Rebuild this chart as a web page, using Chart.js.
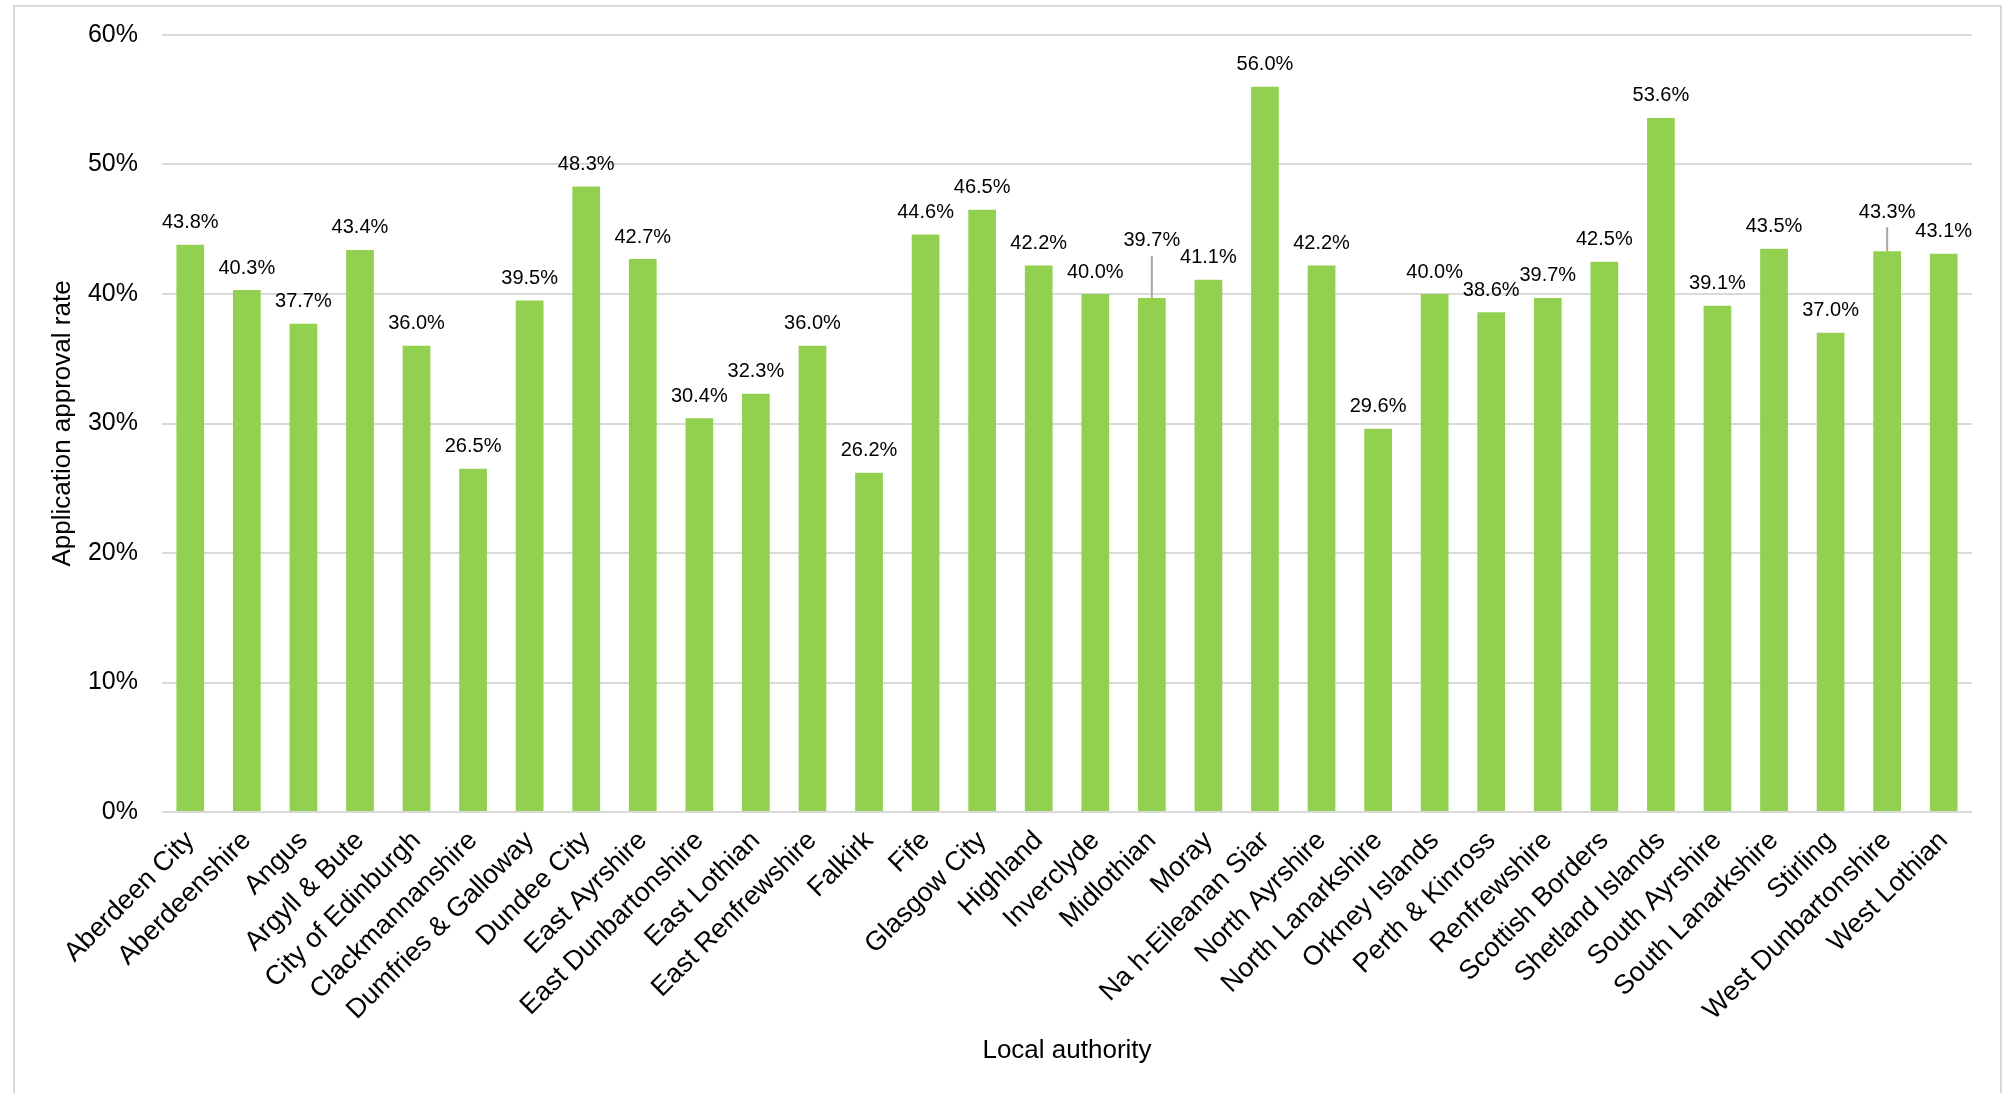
<!DOCTYPE html>
<html>
<head>
    <title>Application approval rate by local authority</title>
    <style>
        html, body { margin: 0; padding: 0; background: #fff; }
        #chartApproval { display: block; }
    </style>
</head>
<body>
    <canvas id="chartApproval" width="2009" height="1093"></canvas>

    <script src="https://cdn.jsdelivr.net/npm/chart.js"></script>
    <script>
        const authorities = [
            'Aberdeen City', 'Aberdeenshire', 'Angus', 'Argyll & Bute', 'City of Edinburgh',
            'Clackmannanshire', 'Dumfries & Galloway', 'Dundee City', 'East Ayrshire',
            'East Dunbartonshire', 'East Lothian', 'East Renfrewshire', 'Falkirk', 'Fife',
            'Glasgow City', 'Highland', 'Inverclyde', 'Midlothian', 'Moray', 'Na h-Eileanan Siar',
            'North Ayrshire', 'North Lanarkshire', 'Orkney Islands', 'Perth & Kinross',
            'Renfrewshire', 'Scottish Borders', 'Shetland Islands', 'South Ayrshire',
            'South Lanarkshire', 'Stirling', 'West Dunbartonshire', 'West Lothian'
        ];

        // Approval rate in percent
        const approvalRates = [
            43.8, 40.3, 37.7, 43.4, 36.0,
            26.5, 39.5, 48.3, 42.7,
            30.4, 32.3, 36.0, 26.2, 44.6,
            46.5, 42.2, 40.0, 39.7, 41.1, 56.0,
            42.2, 29.6, 40.0, 38.6,
            39.7, 42.5, 53.6, 39.1,
            43.5, 37.0, 43.3, 43.1
        ];

        const yMin = 0;
        const yMax = 60;
        const yStep = 10;

        const FONT = '"Liberation Sans", Arial, sans-serif';
        Chart.defaults.font.family = FONT;
        Chart.defaults.color = '#000';

        // Grey frame round the whole chart
        const frame = {
            id: 'frame',
            beforeDraw(chart) {
                const ctx = chart.ctx;
                ctx.save();
                ctx.fillStyle = '#fff';
                ctx.fillRect(0, 0, chart.width, chart.height);
                ctx.strokeStyle = '#d9d9d9';
                ctx.lineWidth = 2;
                ctx.strokeRect(14, 6, 1987, 1200);
                ctx.restore();
            }
        };

        // Value above each bar; a few labels are raised and get a leader line
        const valueLabels = {
            id: 'valueLabels',
            afterDatasetsDraw(chart, args, opts) {
                const ctx = chart.ctx;
                const meta = chart.getDatasetMeta(0);
                ctx.save();
                ctx.font = '20px ' + FONT;
                ctx.fillStyle = '#000';
                ctx.textAlign = 'center';
                ctx.textBaseline = 'middle';
                meta.data.forEach((bar, i) => {
                    const lift = opts.lift[chart.data.labels[i]] || 0;
                    const y = bar.y - opts.gap - lift;
                    if (lift) {
                        ctx.strokeStyle = '#a6a6a6';
                        ctx.lineWidth = 2;
                        ctx.beginPath();
                        ctx.moveTo(bar.x, bar.y);
                        ctx.lineTo(bar.x, y + 15);
                        ctx.stroke();
                    }
                    const v = chart.data.datasets[0].data[i];
                    ctx.fillText(v.toFixed(1) + '%', bar.x, y);
                });
                ctx.restore();
            }
        };

        new Chart(document.getElementById('chartApproval'), {
            type: 'bar',
            data: {
                labels: authorities,
                datasets: [{
                    label: 'Application approval rate',
                    data: approvalRates,
                    backgroundColor: '#92d050',
                    borderWidth: 0,
                    barPercentage: 0.49,
                    categoryPercentage: 1
                }]
            },
            options: {
                responsive: false,
                animation: false,
                layout: { padding: { top: 35, right: 37, left: 0, bottom: 0 } },
                plugins: {
                    legend: { display: false },
                    tooltip: { enabled: false },
                    valueLabels: {
                        gap: 22,
                        lift: { 'Midlothian': 35, 'West Dunbartonshire': 17 }
                    }
                },
                scales: {
                    x: {
                        grid: { display: false },
                        border: { display: false },
                        ticks: {
                            autoSkip: false,
                            minRotation: 45,
                            maxRotation: 45,
                            padding: 5,
                            color: '#000',
                            font: { size: 27 }
                        },
                        title: {
                            display: true,
                            text: 'Local authority',
                            color: '#000',
                            font: { size: 26 },
                            padding: { top: 0, bottom: 27 }
                        },
                        afterFit(scale) { scale.height = 281; }
                    },
                    y: {
                        min: yMin,
                        max: yMax,
                        grid: { color: '#d9d9d9', lineWidth: 2, drawTicks: false },
                        border: { display: false },
                        ticks: {
                            stepSize: yStep,
                            padding: 24,
                            color: '#000',
                            font: { size: 25 },
                            callback: v => v + '%'
                        },
                        title: {
                            display: true,
                            text: 'Application approval rate',
                            color: '#000',
                            font: { size: 26 },
                            padding: { top: 47, bottom: 0 }
                        },
                        afterFit(scale) {
                            scale.width = 162;
                            // tick padding should not push the plot area down
                            scale.paddingTop = 0;
                            scale.paddingBottom = 0;
                        }
                    }
                }
            },
            plugins: [frame, valueLabels]
        });
    </script>
</body>
</html>
